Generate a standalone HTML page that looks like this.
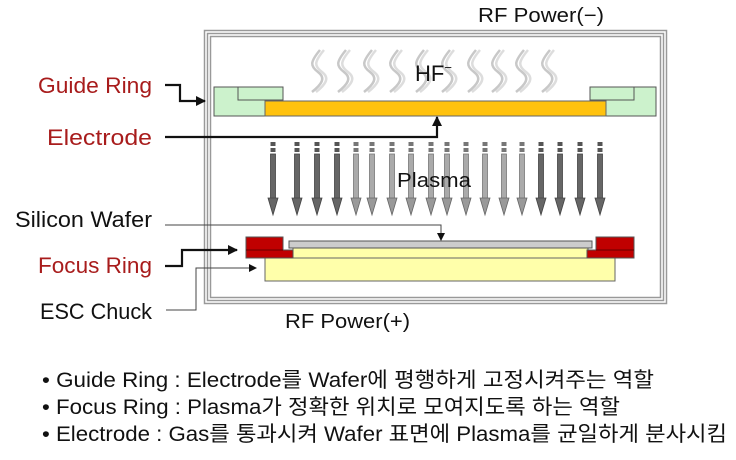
<!DOCTYPE html>
<html><head><meta charset="utf-8"><style>
html,body{margin:0;padding:0;background:#fff;}
svg{display:block;}
text{font-family:"Liberation Sans","Noto Sans CJK KR",sans-serif;}
</style></head><body>
<svg width="736" height="460" viewBox="0 0 736 460" xmlns="http://www.w3.org/2000/svg">
<defs>
<marker id="ah" markerWidth="8" markerHeight="8" refX="7" refY="4" orient="auto" markerUnits="userSpaceOnUse"><path d="M0,0 L8,4 L0,8 Z" fill="#111"/></marker>
<marker id="ah2" markerWidth="10" markerHeight="10" refX="9" refY="5" orient="auto" markerUnits="userSpaceOnUse"><path d="M0,0 L10,5 L0,10 Z" fill="#111"/></marker>
<g id="arD"><rect x="-2.5" y="142" width="5" height="4" fill="#555"/><rect x="-2.5" y="148" width="5" height="4" fill="#555"/><rect x="-2.5" y="154" width="5" height="46" fill="#666" stroke="#444" stroke-width="0.8"/><path d="M-5,198 L5,198 L0,215 Z" fill="#666" stroke="#444" stroke-width="0.8"/></g>
<g id="arM"><rect x="-2.5" y="142" width="5" height="4" fill="#777"/><rect x="-2.5" y="148" width="5" height="4" fill="#777"/><rect x="-2.5" y="154" width="5" height="46" fill="#aaa" stroke="#777" stroke-width="0.8"/><path d="M-5,198 L5,198 L0,215 Z" fill="#999" stroke="#666" stroke-width="0.8"/></g>
<g id="sq" fill="none" stroke="#c8c8c8" stroke-width="2.5"><path d="M10,0 C0,12 0,16 8,22 C16,28 12,34 2,42"/><path d="M14,0 C4,12 4,16 12,22 C20,28 16,34 6,42" stroke="#ddd"/></g>
</defs>

<rect x="204.5" y="30.5" width="462" height="273" fill="none" stroke="#999" stroke-width="1.5"/>
<rect x="207.5" y="33.5" width="456" height="267" fill="none" stroke="#999" stroke-width="1.5"/>
<rect x="210.5" y="36.5" width="450" height="261" fill="none" stroke="#999" stroke-width="1.5"/>

<g>
<use href="#sq" x="310" y="50"/><use href="#sq" x="336" y="50"/><use href="#sq" x="362" y="50"/><use href="#sq" x="388" y="50"/><use href="#sq" x="414" y="50"/><use href="#sq" x="440" y="50"/><use href="#sq" x="466" y="50"/><use href="#sq" x="490" y="50"/><use href="#sq" x="514" y="50"/><use href="#sq" x="540" y="50"/>
</g>
<text x="415" y="81" font-size="22" fill="#111">HF<tspan font-size="13" dy="-9">−</tspan></text>

<path d="M214,87 H283 V101 H265 V116 H214 Z" fill="#ccf2cc" stroke="#555" stroke-width="1"/>
<path d="M238,87 V100 H283" fill="none" stroke="#555" stroke-width="1"/>
<path d="M590,87 H656 V116 H606 V101 H590 Z" fill="#ccf2cc" stroke="#555" stroke-width="1"/>
<path d="M634,87 V100 H590" fill="none" stroke="#555" stroke-width="1"/>
<rect x="265" y="101" width="341" height="15" fill="#ffc20e" stroke="#666" stroke-width="1"/>

<use href="#arD" x="273"/><use href="#arD" x="297"/><use href="#arD" x="317"/><use href="#arD" x="337"/>
<use href="#arM" x="356"/><use href="#arM" x="372"/><use href="#arM" x="392"/><use href="#arM" x="411"/><use href="#arM" x="431"/><use href="#arM" x="447"/><use href="#arM" x="466"/>
<use href="#arM" x="485"/><use href="#arM" x="504"/><use href="#arM" x="522"/>
<use href="#arD" x="541"/><use href="#arD" x="560"/><use href="#arD" x="580"/><use href="#arD" x="600"/>
<text x="397" y="187" font-size="20" fill="#111" textLength="74" lengthAdjust="spacingAndGlyphs">Plasma</text>

<rect x="265" y="258" width="350" height="23" fill="#ffffaa" stroke="#666" stroke-width="1"/>
<rect x="293" y="248" width="295" height="10" fill="#ffffaa" stroke="#666" stroke-width="1"/>
<rect x="289" y="241" width="303" height="7" fill="#ccc" stroke="#555" stroke-width="1"/>
<path d="M246,237 H283 V250 H293 V258 H246 Z" fill="#c00000" stroke="#555" stroke-width="1"/>
<path d="M246,250 H283" stroke="#600" stroke-width="1"/>
<path d="M634,237 H596 V250 H587 V258 H634 Z" fill="#c00000" stroke="#555" stroke-width="1"/>
<path d="M634,250 H596" stroke="#600" stroke-width="1"/>

<path d="M165,85 H180 V101 H205" fill="none" stroke="#111" stroke-width="2.2" marker-end="url(#ah2)"/>
<path d="M165,137 H437 V117" fill="none" stroke="#111" stroke-width="2.2" marker-end="url(#ah2)"/>
<path d="M165,225 H441 V240" fill="none" stroke="#444" stroke-width="1" marker-end="url(#ah)"/>
<path d="M165,266 H182 V250 H237" fill="none" stroke="#111" stroke-width="2.2" marker-end="url(#ah2)"/>
<path d="M166,310 H196 V268 H256" fill="none" stroke="#444" stroke-width="1" marker-end="url(#ah)"/>

<g font-size="22" text-anchor="end" lengthAdjust="spacingAndGlyphs">
<text x="152" y="93" fill="#a81c1c" textLength="114" lengthAdjust="spacingAndGlyphs">Guide Ring</text>
<text x="152" y="145" fill="#a81c1c" textLength="105" lengthAdjust="spacingAndGlyphs">Electrode</text>
<text x="152" y="227" fill="#111" textLength="137" lengthAdjust="spacingAndGlyphs">Silicon Wafer</text>
<text x="152" y="273" fill="#a81c1c" textLength="114" lengthAdjust="spacingAndGlyphs">Focus Ring</text>
<text x="152" y="319" fill="#111" textLength="112" lengthAdjust="spacingAndGlyphs">ESC Chuck</text>
</g>
<text x="478" y="22" font-size="20" fill="#111" textLength="126" lengthAdjust="spacingAndGlyphs">RF Power(−)</text>
<text x="285" y="328" font-size="20" fill="#111" textLength="125" lengthAdjust="spacingAndGlyphs">RF Power(+)</text>

<g font-size="21" fill="#111">
<text x="42" y="387" textLength="612" lengthAdjust="spacingAndGlyphs">• Guide Ring : Electrode를 Wafer에 평행하게 고정시켜주는 역할</text>
<text x="42" y="414" textLength="578" lengthAdjust="spacingAndGlyphs">• Focus Ring : Plasma가 정확한 위치로 모여지도록 하는 역할</text>
<text x="42" y="441" textLength="685" lengthAdjust="spacingAndGlyphs">• Electrode : Gas를 통과시켜 Wafer 표면에 Plasma를 균일하게 분사시킴</text>
</g>
</svg>
</body></html>
